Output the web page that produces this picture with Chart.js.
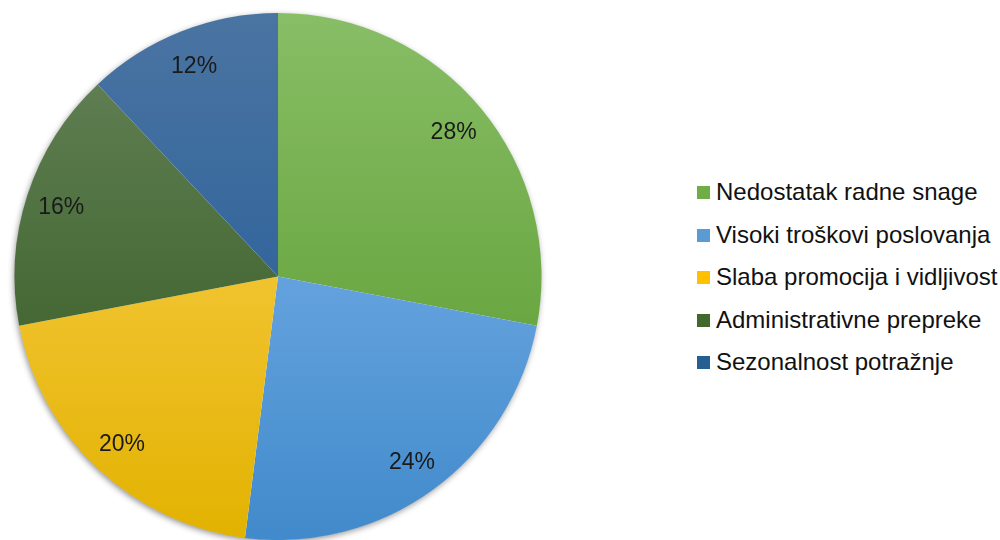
<!DOCTYPE html>
<html>
<head>
<meta charset="utf-8">
<script src="https://cdn.jsdelivr.net/npm/chart.js@4/dist/chart.umd.min.js"></script>
<style>
  html, body { margin: 0; padding: 0; background: #fff; }
  #wrap { position: relative; width: 1000px; height: 540px; font-family: Arial, "Liberation Sans", sans-serif; }
  #pieBox { position: absolute; left: 0; top: 0; width: 556px; height: 540px; }
  #legend { position: absolute; left: 697px; top: 0; }
  .item { position: absolute; left: 0; white-space: nowrap; font-size: 24px; color: #111; line-height: 26px; height: 26px; }
  .item span.box { position: absolute; left: 0; top: 7px; width: 13px; height: 13px; }
  .item span.txt { position: absolute; left: 19px; top: 0; }
</style>
</head>
<body>
<div id="wrap">
  <div id="pieBox"><canvas id="pie"></canvas></div>
  <div id="legend"></div>
</div>
<script>
// podaci
const categories = [
  'Nedostatak radne snage',
  'Visoki troškovi poslovanja',
  'Slaba promocija i vidljivost',
  'Administrativne prepreke',
  'Sezonalnost potražnje'
];
const shares = [28, 24, 20, 16, 12];
const baseColors = ['#70AD47', '#5B9BD5', '#FFC000', '#43682B', '#255E91'];
// gradijent: vrh -> dno kruga
const topColors = ['#88BE66', '#86BAF0', '#FFD45E', '#66845A', '#4A74A2'];
const bottomColors = ['#559628', '#418ACB', '#E2B200', '#2E5419', '#1D5896'];

// baseline redova legende
const legendBaselines = [199, 241.5, 284, 326.5, 369];

function sliceColor(ctx) {
  const i = ctx.dataIndex;
  const area = ctx.chart.chartArea;
  if (!area) return baseColors[i];
  const g = ctx.chart.ctx.createLinearGradient(0, area.top, 0, area.bottom);
  g.addColorStop(0, topColors[i]);
  g.addColorStop(1, bottomColors[i]);
  return g;
}

// sjena ispod kruga
const shadowPlugin = {
  id: 'pieShadow',
  beforeDatasetsDraw(chart) {
    const arc = chart.getDatasetMeta(0).data[0];
    if (!arc) return;
    const c = chart.ctx;
    c.save();
    c.shadowColor = 'rgba(0,0,0,0.45)';
    c.shadowBlur = 6;
    c.shadowOffsetX = -1;
    c.shadowOffsetY = 2;
    c.fillStyle = '#fff';
    c.beginPath();
    c.arc(arc.x, arc.y, arc.outerRadius - 0.5, 0, Math.PI * 2);
    c.fill();
    c.restore();
  }
};

// postoci unutar isječaka
const labelPlugin = {
  id: 'sliceLabels',
  afterDatasetsDraw(chart) {
    const c = chart.ctx;
    const meta = chart.getDatasetMeta(0);
    const size = 23;
    c.save();
    c.font = size + 'px Arial, "Liberation Sans", sans-serif';
    c.fillStyle = '#1a1a1a';
    c.textAlign = 'center';
    c.textBaseline = 'alphabetic';
    meta.data.forEach((arc, i) => {
      const mid = (arc.startAngle + arc.endAngle) / 2;
      const r = arc.outerRadius * 0.865;
      const x = arc.x + Math.cos(mid) * r;
      const y = arc.y + Math.sin(mid) * r;
      c.fillText(shares[i] + '%', x, y + size * 0.358);
    });
    c.restore();
  }
};

const chart = new Chart(document.getElementById('pie'), {
  type: 'pie',
  data: {
    labels: categories,
    datasets: [{
      data: shares,
      backgroundColor: sliceColor,
      borderWidth: 0
    }]
  },
  options: {
    responsive: true,
    maintainAspectRatio: false,
    animation: false,
    layout: { padding: { top: 13, bottom: 0, left: 0, right: 0 } },
    plugins: {
      legend: { display: false },
      tooltip: { enabled: false }
    }
  },
  plugins: [shadowPlugin, labelPlugin]
});

// legenda
const legendEl = document.getElementById('legend');
categories.forEach((name, i) => {
  const row = document.createElement('div');
  row.className = 'item';
  // baseline ~ 20px ispod vrha reda pri 26px visine
  row.style.top = (legendBaselines[i] - 20) + 'px';
  row.innerHTML = '<span class="box" style="background:' + baseColors[i] + '"></span><span class="txt"></span>';
  row.querySelector('.txt').textContent = name;
  legendEl.appendChild(row);
});
</script>
</body>
</html>
